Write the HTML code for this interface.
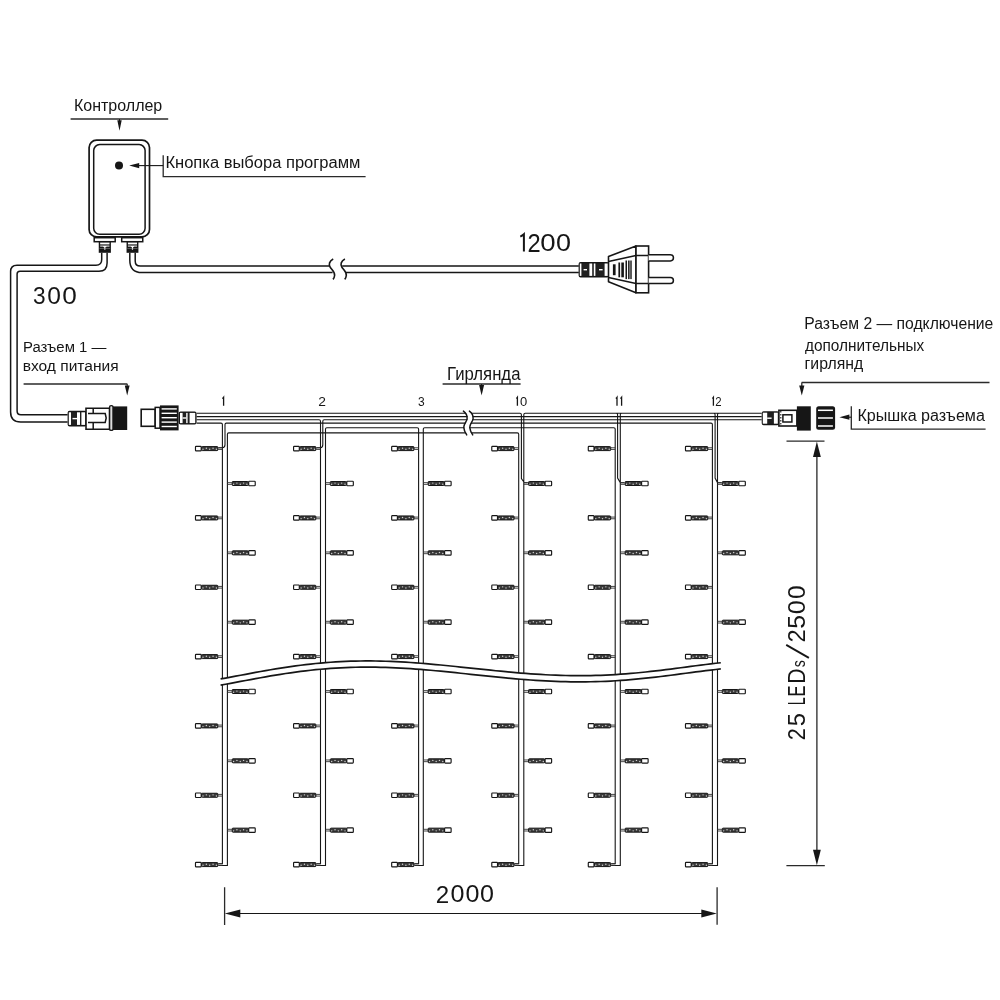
<!DOCTYPE html>
<html><head><meta charset="utf-8"><style>
html,body{margin:0;padding:0;background:#fff;width:1000px;height:1000px;overflow:hidden}
svg{display:block;will-change:transform}
text{font-family:"Liberation Sans",sans-serif;fill:#161616}
</style></head><body>
<svg width="1000" height="1000" viewBox="0 0 1000 1000">
<rect width="1000" height="1000" fill="#fff"/>

<rect x="89.1" y="140.1" width="60.4" height="96.8" rx="7.5" fill="none" stroke="#161616" stroke-width="1.7"/>
<rect x="93.7" y="144.6" width="51.4" height="89.6" rx="6" fill="none" stroke="#161616" stroke-width="1.5"/>
<circle cx="119" cy="165.6" r="4" fill="#161616"/>
<rect x="94.20" y="237.7" width="21.00" height="4" fill="#fff" stroke="#161616" stroke-width="1.5"/><rect x="98.75" y="241.7" width="12.15" height="11.1" fill="#161616"/><rect x="100.15" y="242.6" width="9.35" height="1.8" fill="#fff"/><rect x="100.15" y="245.4" width="9.35" height="1.4" fill="#bbb"/><rect x="103.23" y="246.1" width="3.2" height="1.0" fill="#fff"/><rect x="104.23" y="246.1" width="1.2" height="3.6" fill="#fff"/><rect x="99.55" y="248.1" width="10.55" height="0.5" fill="#999"/>
<rect x="121.70" y="237.7" width="21.05" height="4" fill="#fff" stroke="#161616" stroke-width="1.5"/><rect x="126.55" y="241.7" width="11.85" height="11.1" fill="#161616"/><rect x="127.95" y="242.6" width="9.05" height="1.8" fill="#fff"/><rect x="127.95" y="245.4" width="9.05" height="1.4" fill="#bbb"/><rect x="130.88" y="246.1" width="3.2" height="1.0" fill="#fff"/><rect x="131.88" y="246.1" width="1.2" height="3.6" fill="#fff"/><rect x="127.35" y="248.1" width="10.25" height="0.5" fill="#999"/>
<path d="M101.7,252.8 V259.5 Q101.7,265.2 96,265.2 H17 Q10.6,265.2 10.6,271.6 V412 Q10.6,422 20.6,422 H67.6" fill="none" stroke="#161616" stroke-width="1.5"/>
<path d="M107.1,252.8 V263 Q107.1,271.2 99,271.2 H20 Q17.1,271.2 17.1,274.1 V411 Q17.1,414.8 20.9,414.8 H67.6" fill="none" stroke="#161616" stroke-width="1.5"/>
<path d="M129.8,252.8 V260 Q129.8,272.6 142,272.6 H332.6" fill="none" stroke="#161616" stroke-width="1.5"/>
<path d="M135.2,252.8 V261 Q135.2,266.1 140.3,266.1 H329.6" fill="none" stroke="#161616" stroke-width="1.5"/>
<path d="M342.2,266.1 H578.8 M345.8,272.6 H578.8" fill="none" stroke="#161616" stroke-width="1.5"/>
<path d="M333.2,259 C329.3,261 328.4,264.6 330.2,267.2 C332.2,270.2 335,272 334.6,275.5 C334.4,277.3 333.8,278.5 333,279.4" fill="none" stroke="#161616" stroke-width="1.6"/>
<path d="M344.9,259 C341.0,261 340.09999999999997,264.6 341.9,267.2 C343.9,270.2 346.7,272 346.3,275.5 C346.09999999999997,277.3 345.5,278.5 344.7,279.4" fill="none" stroke="#161616" stroke-width="1.6"/>
<rect x="579.30" y="262.70" width="29.00" height="14.00" rx="1.3" fill="#202020" stroke="#161616" stroke-width="1.4"/><rect x="579.80" y="263.50" width="1.60" height="12.40" fill="#fff"/><rect x="589.40" y="263.50" width="2.80" height="12.40" fill="#fff"/><rect x="593.80" y="263.50" width="1.60" height="12.40" fill="#fff"/><rect x="604.60" y="263.50" width="3.40" height="12.40" fill="#fff"/><rect x="583.60" y="269.00" width="3.40" height="1.4" fill="#fff"/><rect x="599.00" y="269.00" width="3.60" height="1.4" fill="#fff"/>
<path d="M608.5,256.5 L636,246 V292.8 L608.5,281.8 Z" fill="#fff" stroke="#161616" stroke-width="1.6" stroke-linejoin="round"/>
<path d="M608.5,261.4 L636,255.4 M608.5,277.4 L636,283.4" fill="none" stroke="#161616" stroke-width="1.5"/>
<rect x="612.9" y="264.3" width="2.7" height="10.9" fill="#161616"/>
<rect x="618.4" y="262.5" width="1.7" height="14.8" fill="#161616"/><rect x="621.3" y="262.5" width="2.6" height="14.8" fill="#161616"/>
<rect x="625.5" y="260.5" width="1.5" height="18.6" fill="#161616"/><rect x="628.1" y="260.5" width="1.5" height="18.6" fill="#161616"/><rect x="630.3" y="260.5" width="1.4" height="18.6" fill="#161616"/>
<rect x="636" y="246" width="12.6" height="46.8" fill="#fff" stroke="#161616" stroke-width="1.6"/>
<path d="M636,255.4 H648.6 M636,283.4 H648.6" stroke="#161616" stroke-width="1.5"/>
<path d="M648.6,254.8 H670.4 A3,3 0 0 1 670.4,260.9 H648.6" fill="#fff" stroke="#161616" stroke-width="1.5"/>
<path d="M648.6,277.4 H670.4 A3,3 0 0 1 670.4,283.4 H648.6" fill="#fff" stroke="#161616" stroke-width="1.5"/>
<rect x="68.30" y="411.50" width="17.60" height="14.20" rx="1.3" fill="#202020" stroke="#161616" stroke-width="1.4"/><rect x="68.80" y="412.30" width="2.20" height="12.60" fill="#fff"/><rect x="77.00" y="412.30" width="3.00" height="12.60" fill="#fff"/><rect x="81.40" y="412.30" width="3.80" height="12.60" fill="#fff"/><rect x="72.50" y="417.90" width="4.50" height="1.4" fill="#fff"/>
<path d="M86,408.2 H109.6 V429.2 H86 Z" fill="#fff" stroke="#161616" stroke-width="1.6"/>
<path d="M93.2,408.2 V429.2" stroke="#161616" stroke-width="1.5"/>
<path d="M88,413.6 H105.2 L106.2,418 L105.2,422.4 H88" fill="#fff" stroke="#161616" stroke-width="1.5"/>
<rect x="109.6" y="405.6" width="3.4" height="24.8" rx="1.5" fill="#ddd" stroke="#161616" stroke-width="1.4"/>
<rect x="113" y="406.4" width="14.2" height="23.6" fill="#161616"/>
<rect x="141.2" y="409.3" width="14" height="17" fill="#fff" stroke="#161616" stroke-width="1.6"/>
<rect x="155.2" y="407.4" width="4.8" height="20.8" fill="#fff" stroke="#161616" stroke-width="1.5"/>
<rect x="160" y="405.4" width="18.6" height="25" fill="#161616"/>
<rect x="161.6" y="408.20" width="15.2" height="1.4" fill="#fff"/>
<rect x="161.6" y="412.60" width="15.2" height="1.4" fill="#fff"/>
<rect x="161.6" y="417.00" width="15.2" height="1.4" fill="#fff"/>
<rect x="161.6" y="421.40" width="15.2" height="1.4" fill="#fff"/>
<rect x="161.6" y="425.80" width="15.2" height="1.4" fill="#fff"/>
<rect x="179.30" y="412.10" width="16.60" height="11.80" rx="1.3" fill="#202020" stroke="#161616" stroke-width="1.4"/><rect x="180.00" y="412.90" width="2.60" height="10.20" fill="#fff"/><rect x="186.20" y="412.90" width="1.40" height="10.20" fill="#fff"/><rect x="189.60" y="412.90" width="5.60" height="10.20" fill="#fff"/><rect x="182.60" y="417.30" width="3.60" height="1.4" fill="#fff"/>
<rect x="762.40" y="411.90" width="16.10" height="12.60" rx="1.3" fill="#202020" stroke="#161616" stroke-width="1.4"/><rect x="762.80" y="412.70" width="4.40" height="11.00" fill="#fff"/><rect x="773.90" y="412.70" width="3.90" height="11.00" fill="#fff"/><rect x="767.20" y="417.50" width="4.40" height="1.4" fill="#fff"/>
<rect x="778.9" y="410.3" width="18" height="15.7" fill="#fff" stroke="#161616" stroke-width="1.6"/>
<path d="M780.8,411 V425.3" stroke="#161616" stroke-width="1.1" stroke-dasharray="1.6 1.4"/>
<rect x="782.9" y="414.8" width="9" height="7.2" fill="#fff" stroke="#161616" stroke-width="1.5"/>
<rect x="796.9" y="406.3" width="13.9" height="24.3" fill="#161616"/>
<rect x="816.2" y="406.3" width="18.9" height="23.4" rx="2.5" fill="#161616"/>
<rect x="818" y="409.55" width="14.9" height="1.5" fill="#fff"/>
<rect x="818" y="417.25" width="14.9" height="1.5" fill="#fff"/>
<rect x="818" y="425.25" width="14.9" height="1.5" fill="#fff"/>
<path d="M196.6,413.3H474.0M461.0,413.3H520.0Q521.4,413.3 521.4,414.7V478.6L524.4,482.7H527.5M616.4,413.3H525.1999999999999Q523.8,413.3 523.8,414.7V865.48H515.0M621.7,413.3H616.2Q617.6,413.3 617.6,414.7V478.0L620.3,482.7H624.0M713.9,413.3H621.6999999999999Q620.3,413.3 620.3,414.7V865.48H611.5M718.9,413.3H713.7Q715.1,413.3 715.1,414.7V478.0L717.5,482.7H721.2M761.7,413.3H718.9Q717.5,413.3 717.5,414.7V865.48H708.7M196.6,416.6H474.0M461.0,416.6H761.7M196.6,419.8H319.1Q320.5,419.8 320.5,421.2V863.7800000000001H316.8M474.0,419.8H324.2Q322.8,419.8 322.8,421.2V444.6Q322.8,447.8 320.5,447.8H316.8M461.0,419.8H761.7M196.6,423.1H221.0Q222.4,423.1 222.4,424.5V863.7800000000001H218.7M474.0,423.1H226.4Q225.0,423.1 225.0,424.5V444.6Q225.0,447.8 222.4,447.8H218.7M461.0,423.1H711.0Q712.4,423.1 712.4,424.5V863.7800000000001H708.7M417.2,427.7H326.9Q325.5,427.7 325.5,429.09999999999997V865.48H316.8M326.9,427.7H417.20000000000005Q418.6,427.7 418.6,429.09999999999997V863.7800000000001H414.9M474.0,427.7H424.7Q423.3,427.7 423.3,429.09999999999997V865.48H414.9M461.0,427.7H613.8000000000001Q615.2,427.7 615.2,429.09999999999997V863.7800000000001H611.5M474.0,432.9H228.8Q227.4,432.9 227.4,434.29999999999995V865.48H218.7M461.0,432.9H517.3000000000001Q518.7,432.9 518.7,434.29999999999995V863.7800000000001H515.0" fill="none" stroke="#161616" stroke-width="1.1"/>
<path d="M464.0,411.1 C466.90000000000003,413.3 468.0,415.8 467.70000000000005,418.7 C467.40000000000003,421.8 464.20000000000005,424.2 464.35,427.4 C464.5,430.4 466.0,432.9 467.3,434.9L472.2,434.9 C470.9,432.9 469.4,430.4 469.25,427.4 C469.1,424.2 472.3,421.8 472.6,418.7 C472.9,415.8 471.8,413.3 468.9,411.1Z" fill="#fff"/>
<path d="M463.4,411.1 C466.3,413.3 467.4,415.8 467.1,418.7 C466.8,421.8 463.6,424.2 463.75,427.4 C463.9,430.4 465.4,432.9 466.7,434.9" fill="none" stroke="#161616" stroke-width="1.45" stroke-linecap="round"/>
<path d="M469.4,411.1 C472.3,413.3 473.4,415.8 473.1,418.7 C472.8,421.8 469.6,424.2 469.75,427.4 C469.9,430.4 471.4,432.9 472.7,434.9" fill="none" stroke="#161616" stroke-width="1.45" stroke-linecap="round"/>
<path d="M218.20,447.75H222.40M218.20,449.45H222.40" stroke="#333" stroke-width="0.9"/><rect x="201.50" y="446.60" width="16.40" height="4.0" rx="0.9" fill="#3a3a3a" stroke="#161616" stroke-width="1.0"/><circle cx="203.00" cy="449.30" r="0.7" fill="#d0d0d0"/><circle cx="206.35" cy="448.20" r="0.7" fill="#d0d0d0"/><circle cx="209.70" cy="449.30" r="0.7" fill="#d0d0d0"/><circle cx="213.05" cy="448.20" r="0.7" fill="#d0d0d0"/><circle cx="216.40" cy="449.30" r="0.7" fill="#d0d0d0"/><rect x="195.48" y="446.35" width="5.72" height="4.5" rx="0.7" fill="#fff" stroke="#161616" stroke-width="1.15"/>
<path d="M218.20,517.08H222.40M218.20,518.78H222.40" stroke="#333" stroke-width="0.9"/><rect x="201.50" y="515.93" width="16.40" height="4.0" rx="0.9" fill="#3a3a3a" stroke="#161616" stroke-width="1.0"/><circle cx="203.00" cy="518.63" r="0.7" fill="#d0d0d0"/><circle cx="206.35" cy="517.53" r="0.7" fill="#d0d0d0"/><circle cx="209.70" cy="518.63" r="0.7" fill="#d0d0d0"/><circle cx="213.05" cy="517.53" r="0.7" fill="#d0d0d0"/><circle cx="216.40" cy="518.63" r="0.7" fill="#d0d0d0"/><rect x="195.48" y="515.68" width="5.72" height="4.5" rx="0.7" fill="#fff" stroke="#161616" stroke-width="1.15"/>
<path d="M218.20,586.41H222.40M218.20,588.11H222.40" stroke="#333" stroke-width="0.9"/><rect x="201.50" y="585.26" width="16.40" height="4.0" rx="0.9" fill="#3a3a3a" stroke="#161616" stroke-width="1.0"/><circle cx="203.00" cy="587.96" r="0.7" fill="#d0d0d0"/><circle cx="206.35" cy="586.86" r="0.7" fill="#d0d0d0"/><circle cx="209.70" cy="587.96" r="0.7" fill="#d0d0d0"/><circle cx="213.05" cy="586.86" r="0.7" fill="#d0d0d0"/><circle cx="216.40" cy="587.96" r="0.7" fill="#d0d0d0"/><rect x="195.48" y="585.01" width="5.72" height="4.5" rx="0.7" fill="#fff" stroke="#161616" stroke-width="1.15"/>
<path d="M218.20,655.74H222.40M218.20,657.44H222.40" stroke="#333" stroke-width="0.9"/><rect x="201.50" y="654.59" width="16.40" height="4.0" rx="0.9" fill="#3a3a3a" stroke="#161616" stroke-width="1.0"/><circle cx="203.00" cy="657.29" r="0.7" fill="#d0d0d0"/><circle cx="206.35" cy="656.19" r="0.7" fill="#d0d0d0"/><circle cx="209.70" cy="657.29" r="0.7" fill="#d0d0d0"/><circle cx="213.05" cy="656.19" r="0.7" fill="#d0d0d0"/><circle cx="216.40" cy="657.29" r="0.7" fill="#d0d0d0"/><rect x="195.48" y="654.34" width="5.72" height="4.5" rx="0.7" fill="#fff" stroke="#161616" stroke-width="1.15"/>
<path d="M218.20,725.07H222.40M218.20,726.77H222.40" stroke="#333" stroke-width="0.9"/><rect x="201.50" y="723.92" width="16.40" height="4.0" rx="0.9" fill="#3a3a3a" stroke="#161616" stroke-width="1.0"/><circle cx="203.00" cy="726.62" r="0.7" fill="#d0d0d0"/><circle cx="206.35" cy="725.52" r="0.7" fill="#d0d0d0"/><circle cx="209.70" cy="726.62" r="0.7" fill="#d0d0d0"/><circle cx="213.05" cy="725.52" r="0.7" fill="#d0d0d0"/><circle cx="216.40" cy="726.62" r="0.7" fill="#d0d0d0"/><rect x="195.48" y="723.67" width="5.72" height="4.5" rx="0.7" fill="#fff" stroke="#161616" stroke-width="1.15"/>
<path d="M218.20,794.40H222.40M218.20,796.10H222.40" stroke="#333" stroke-width="0.9"/><rect x="201.50" y="793.25" width="16.40" height="4.0" rx="0.9" fill="#3a3a3a" stroke="#161616" stroke-width="1.0"/><circle cx="203.00" cy="795.95" r="0.7" fill="#d0d0d0"/><circle cx="206.35" cy="794.85" r="0.7" fill="#d0d0d0"/><circle cx="209.70" cy="795.95" r="0.7" fill="#d0d0d0"/><circle cx="213.05" cy="794.85" r="0.7" fill="#d0d0d0"/><circle cx="216.40" cy="795.95" r="0.7" fill="#d0d0d0"/><rect x="195.48" y="793.00" width="5.72" height="4.5" rx="0.7" fill="#fff" stroke="#161616" stroke-width="1.15"/>
<path d="M218.20,863.73H222.40M218.20,865.43H222.40" stroke="#333" stroke-width="0.9"/><rect x="201.50" y="862.58" width="16.40" height="4.0" rx="0.9" fill="#3a3a3a" stroke="#161616" stroke-width="1.0"/><circle cx="203.00" cy="865.28" r="0.7" fill="#d0d0d0"/><circle cx="206.35" cy="864.18" r="0.7" fill="#d0d0d0"/><circle cx="209.70" cy="865.28" r="0.7" fill="#d0d0d0"/><circle cx="213.05" cy="864.18" r="0.7" fill="#d0d0d0"/><circle cx="216.40" cy="865.28" r="0.7" fill="#d0d0d0"/><rect x="195.48" y="862.33" width="5.72" height="4.5" rx="0.7" fill="#fff" stroke="#161616" stroke-width="1.15"/>
<path d="M227.40,482.65H231.80M227.40,484.35H231.80" stroke="#333" stroke-width="0.9"/><rect x="232.10" y="481.50" width="16.30" height="4.0" rx="0.9" fill="#3a3a3a" stroke="#161616" stroke-width="1.0"/><circle cx="233.60" cy="484.20" r="0.7" fill="#d0d0d0"/><circle cx="236.93" cy="483.10" r="0.7" fill="#d0d0d0"/><circle cx="240.25" cy="484.20" r="0.7" fill="#d0d0d0"/><circle cx="243.57" cy="483.10" r="0.7" fill="#d0d0d0"/><circle cx="246.90" cy="484.20" r="0.7" fill="#d0d0d0"/><rect x="248.70" y="481.25" width="6.52" height="4.5" rx="0.7" fill="#fff" stroke="#161616" stroke-width="1.15"/>
<path d="M227.40,551.98H231.80M227.40,553.68H231.80" stroke="#333" stroke-width="0.9"/><rect x="232.10" y="550.83" width="16.30" height="4.0" rx="0.9" fill="#3a3a3a" stroke="#161616" stroke-width="1.0"/><circle cx="233.60" cy="553.53" r="0.7" fill="#d0d0d0"/><circle cx="236.93" cy="552.43" r="0.7" fill="#d0d0d0"/><circle cx="240.25" cy="553.53" r="0.7" fill="#d0d0d0"/><circle cx="243.57" cy="552.43" r="0.7" fill="#d0d0d0"/><circle cx="246.90" cy="553.53" r="0.7" fill="#d0d0d0"/><rect x="248.70" y="550.58" width="6.52" height="4.5" rx="0.7" fill="#fff" stroke="#161616" stroke-width="1.15"/>
<path d="M227.40,621.31H231.80M227.40,623.01H231.80" stroke="#333" stroke-width="0.9"/><rect x="232.10" y="620.16" width="16.30" height="4.0" rx="0.9" fill="#3a3a3a" stroke="#161616" stroke-width="1.0"/><circle cx="233.60" cy="622.86" r="0.7" fill="#d0d0d0"/><circle cx="236.93" cy="621.76" r="0.7" fill="#d0d0d0"/><circle cx="240.25" cy="622.86" r="0.7" fill="#d0d0d0"/><circle cx="243.57" cy="621.76" r="0.7" fill="#d0d0d0"/><circle cx="246.90" cy="622.86" r="0.7" fill="#d0d0d0"/><rect x="248.70" y="619.91" width="6.52" height="4.5" rx="0.7" fill="#fff" stroke="#161616" stroke-width="1.15"/>
<path d="M227.40,690.64H231.80M227.40,692.34H231.80" stroke="#333" stroke-width="0.9"/><rect x="232.10" y="689.49" width="16.30" height="4.0" rx="0.9" fill="#3a3a3a" stroke="#161616" stroke-width="1.0"/><circle cx="233.60" cy="692.19" r="0.7" fill="#d0d0d0"/><circle cx="236.93" cy="691.09" r="0.7" fill="#d0d0d0"/><circle cx="240.25" cy="692.19" r="0.7" fill="#d0d0d0"/><circle cx="243.57" cy="691.09" r="0.7" fill="#d0d0d0"/><circle cx="246.90" cy="692.19" r="0.7" fill="#d0d0d0"/><rect x="248.70" y="689.24" width="6.52" height="4.5" rx="0.7" fill="#fff" stroke="#161616" stroke-width="1.15"/>
<path d="M227.40,759.97H231.80M227.40,761.67H231.80" stroke="#333" stroke-width="0.9"/><rect x="232.10" y="758.82" width="16.30" height="4.0" rx="0.9" fill="#3a3a3a" stroke="#161616" stroke-width="1.0"/><circle cx="233.60" cy="761.52" r="0.7" fill="#d0d0d0"/><circle cx="236.93" cy="760.42" r="0.7" fill="#d0d0d0"/><circle cx="240.25" cy="761.52" r="0.7" fill="#d0d0d0"/><circle cx="243.57" cy="760.42" r="0.7" fill="#d0d0d0"/><circle cx="246.90" cy="761.52" r="0.7" fill="#d0d0d0"/><rect x="248.70" y="758.57" width="6.52" height="4.5" rx="0.7" fill="#fff" stroke="#161616" stroke-width="1.15"/>
<path d="M227.40,829.30H231.80M227.40,831.00H231.80" stroke="#333" stroke-width="0.9"/><rect x="232.10" y="828.15" width="16.30" height="4.0" rx="0.9" fill="#3a3a3a" stroke="#161616" stroke-width="1.0"/><circle cx="233.60" cy="830.85" r="0.7" fill="#d0d0d0"/><circle cx="236.93" cy="829.75" r="0.7" fill="#d0d0d0"/><circle cx="240.25" cy="830.85" r="0.7" fill="#d0d0d0"/><circle cx="243.57" cy="829.75" r="0.7" fill="#d0d0d0"/><circle cx="246.90" cy="830.85" r="0.7" fill="#d0d0d0"/><rect x="248.70" y="827.90" width="6.52" height="4.5" rx="0.7" fill="#fff" stroke="#161616" stroke-width="1.15"/>
<path d="M316.30,447.75H320.50M316.30,449.45H320.50" stroke="#333" stroke-width="0.9"/><rect x="299.60" y="446.60" width="16.40" height="4.0" rx="0.9" fill="#3a3a3a" stroke="#161616" stroke-width="1.0"/><circle cx="301.10" cy="449.30" r="0.7" fill="#d0d0d0"/><circle cx="304.45" cy="448.20" r="0.7" fill="#d0d0d0"/><circle cx="307.80" cy="449.30" r="0.7" fill="#d0d0d0"/><circle cx="311.15" cy="448.20" r="0.7" fill="#d0d0d0"/><circle cx="314.50" cy="449.30" r="0.7" fill="#d0d0d0"/><rect x="293.58" y="446.35" width="5.72" height="4.5" rx="0.7" fill="#fff" stroke="#161616" stroke-width="1.15"/>
<path d="M316.30,517.08H320.50M316.30,518.78H320.50" stroke="#333" stroke-width="0.9"/><rect x="299.60" y="515.93" width="16.40" height="4.0" rx="0.9" fill="#3a3a3a" stroke="#161616" stroke-width="1.0"/><circle cx="301.10" cy="518.63" r="0.7" fill="#d0d0d0"/><circle cx="304.45" cy="517.53" r="0.7" fill="#d0d0d0"/><circle cx="307.80" cy="518.63" r="0.7" fill="#d0d0d0"/><circle cx="311.15" cy="517.53" r="0.7" fill="#d0d0d0"/><circle cx="314.50" cy="518.63" r="0.7" fill="#d0d0d0"/><rect x="293.58" y="515.68" width="5.72" height="4.5" rx="0.7" fill="#fff" stroke="#161616" stroke-width="1.15"/>
<path d="M316.30,586.41H320.50M316.30,588.11H320.50" stroke="#333" stroke-width="0.9"/><rect x="299.60" y="585.26" width="16.40" height="4.0" rx="0.9" fill="#3a3a3a" stroke="#161616" stroke-width="1.0"/><circle cx="301.10" cy="587.96" r="0.7" fill="#d0d0d0"/><circle cx="304.45" cy="586.86" r="0.7" fill="#d0d0d0"/><circle cx="307.80" cy="587.96" r="0.7" fill="#d0d0d0"/><circle cx="311.15" cy="586.86" r="0.7" fill="#d0d0d0"/><circle cx="314.50" cy="587.96" r="0.7" fill="#d0d0d0"/><rect x="293.58" y="585.01" width="5.72" height="4.5" rx="0.7" fill="#fff" stroke="#161616" stroke-width="1.15"/>
<path d="M316.30,655.74H320.50M316.30,657.44H320.50" stroke="#333" stroke-width="0.9"/><rect x="299.60" y="654.59" width="16.40" height="4.0" rx="0.9" fill="#3a3a3a" stroke="#161616" stroke-width="1.0"/><circle cx="301.10" cy="657.29" r="0.7" fill="#d0d0d0"/><circle cx="304.45" cy="656.19" r="0.7" fill="#d0d0d0"/><circle cx="307.80" cy="657.29" r="0.7" fill="#d0d0d0"/><circle cx="311.15" cy="656.19" r="0.7" fill="#d0d0d0"/><circle cx="314.50" cy="657.29" r="0.7" fill="#d0d0d0"/><rect x="293.58" y="654.34" width="5.72" height="4.5" rx="0.7" fill="#fff" stroke="#161616" stroke-width="1.15"/>
<path d="M316.30,725.07H320.50M316.30,726.77H320.50" stroke="#333" stroke-width="0.9"/><rect x="299.60" y="723.92" width="16.40" height="4.0" rx="0.9" fill="#3a3a3a" stroke="#161616" stroke-width="1.0"/><circle cx="301.10" cy="726.62" r="0.7" fill="#d0d0d0"/><circle cx="304.45" cy="725.52" r="0.7" fill="#d0d0d0"/><circle cx="307.80" cy="726.62" r="0.7" fill="#d0d0d0"/><circle cx="311.15" cy="725.52" r="0.7" fill="#d0d0d0"/><circle cx="314.50" cy="726.62" r="0.7" fill="#d0d0d0"/><rect x="293.58" y="723.67" width="5.72" height="4.5" rx="0.7" fill="#fff" stroke="#161616" stroke-width="1.15"/>
<path d="M316.30,794.40H320.50M316.30,796.10H320.50" stroke="#333" stroke-width="0.9"/><rect x="299.60" y="793.25" width="16.40" height="4.0" rx="0.9" fill="#3a3a3a" stroke="#161616" stroke-width="1.0"/><circle cx="301.10" cy="795.95" r="0.7" fill="#d0d0d0"/><circle cx="304.45" cy="794.85" r="0.7" fill="#d0d0d0"/><circle cx="307.80" cy="795.95" r="0.7" fill="#d0d0d0"/><circle cx="311.15" cy="794.85" r="0.7" fill="#d0d0d0"/><circle cx="314.50" cy="795.95" r="0.7" fill="#d0d0d0"/><rect x="293.58" y="793.00" width="5.72" height="4.5" rx="0.7" fill="#fff" stroke="#161616" stroke-width="1.15"/>
<path d="M316.30,863.73H320.50M316.30,865.43H320.50" stroke="#333" stroke-width="0.9"/><rect x="299.60" y="862.58" width="16.40" height="4.0" rx="0.9" fill="#3a3a3a" stroke="#161616" stroke-width="1.0"/><circle cx="301.10" cy="865.28" r="0.7" fill="#d0d0d0"/><circle cx="304.45" cy="864.18" r="0.7" fill="#d0d0d0"/><circle cx="307.80" cy="865.28" r="0.7" fill="#d0d0d0"/><circle cx="311.15" cy="864.18" r="0.7" fill="#d0d0d0"/><circle cx="314.50" cy="865.28" r="0.7" fill="#d0d0d0"/><rect x="293.58" y="862.33" width="5.72" height="4.5" rx="0.7" fill="#fff" stroke="#161616" stroke-width="1.15"/>
<path d="M325.50,482.65H329.90M325.50,484.35H329.90" stroke="#333" stroke-width="0.9"/><rect x="330.20" y="481.50" width="16.30" height="4.0" rx="0.9" fill="#3a3a3a" stroke="#161616" stroke-width="1.0"/><circle cx="331.70" cy="484.20" r="0.7" fill="#d0d0d0"/><circle cx="335.02" cy="483.10" r="0.7" fill="#d0d0d0"/><circle cx="338.35" cy="484.20" r="0.7" fill="#d0d0d0"/><circle cx="341.68" cy="483.10" r="0.7" fill="#d0d0d0"/><circle cx="345.00" cy="484.20" r="0.7" fill="#d0d0d0"/><rect x="346.80" y="481.25" width="6.52" height="4.5" rx="0.7" fill="#fff" stroke="#161616" stroke-width="1.15"/>
<path d="M325.50,551.98H329.90M325.50,553.68H329.90" stroke="#333" stroke-width="0.9"/><rect x="330.20" y="550.83" width="16.30" height="4.0" rx="0.9" fill="#3a3a3a" stroke="#161616" stroke-width="1.0"/><circle cx="331.70" cy="553.53" r="0.7" fill="#d0d0d0"/><circle cx="335.02" cy="552.43" r="0.7" fill="#d0d0d0"/><circle cx="338.35" cy="553.53" r="0.7" fill="#d0d0d0"/><circle cx="341.68" cy="552.43" r="0.7" fill="#d0d0d0"/><circle cx="345.00" cy="553.53" r="0.7" fill="#d0d0d0"/><rect x="346.80" y="550.58" width="6.52" height="4.5" rx="0.7" fill="#fff" stroke="#161616" stroke-width="1.15"/>
<path d="M325.50,621.31H329.90M325.50,623.01H329.90" stroke="#333" stroke-width="0.9"/><rect x="330.20" y="620.16" width="16.30" height="4.0" rx="0.9" fill="#3a3a3a" stroke="#161616" stroke-width="1.0"/><circle cx="331.70" cy="622.86" r="0.7" fill="#d0d0d0"/><circle cx="335.02" cy="621.76" r="0.7" fill="#d0d0d0"/><circle cx="338.35" cy="622.86" r="0.7" fill="#d0d0d0"/><circle cx="341.68" cy="621.76" r="0.7" fill="#d0d0d0"/><circle cx="345.00" cy="622.86" r="0.7" fill="#d0d0d0"/><rect x="346.80" y="619.91" width="6.52" height="4.5" rx="0.7" fill="#fff" stroke="#161616" stroke-width="1.15"/>
<path d="M325.50,690.64H329.90M325.50,692.34H329.90" stroke="#333" stroke-width="0.9"/><rect x="330.20" y="689.49" width="16.30" height="4.0" rx="0.9" fill="#3a3a3a" stroke="#161616" stroke-width="1.0"/><circle cx="331.70" cy="692.19" r="0.7" fill="#d0d0d0"/><circle cx="335.02" cy="691.09" r="0.7" fill="#d0d0d0"/><circle cx="338.35" cy="692.19" r="0.7" fill="#d0d0d0"/><circle cx="341.68" cy="691.09" r="0.7" fill="#d0d0d0"/><circle cx="345.00" cy="692.19" r="0.7" fill="#d0d0d0"/><rect x="346.80" y="689.24" width="6.52" height="4.5" rx="0.7" fill="#fff" stroke="#161616" stroke-width="1.15"/>
<path d="M325.50,759.97H329.90M325.50,761.67H329.90" stroke="#333" stroke-width="0.9"/><rect x="330.20" y="758.82" width="16.30" height="4.0" rx="0.9" fill="#3a3a3a" stroke="#161616" stroke-width="1.0"/><circle cx="331.70" cy="761.52" r="0.7" fill="#d0d0d0"/><circle cx="335.02" cy="760.42" r="0.7" fill="#d0d0d0"/><circle cx="338.35" cy="761.52" r="0.7" fill="#d0d0d0"/><circle cx="341.68" cy="760.42" r="0.7" fill="#d0d0d0"/><circle cx="345.00" cy="761.52" r="0.7" fill="#d0d0d0"/><rect x="346.80" y="758.57" width="6.52" height="4.5" rx="0.7" fill="#fff" stroke="#161616" stroke-width="1.15"/>
<path d="M325.50,829.30H329.90M325.50,831.00H329.90" stroke="#333" stroke-width="0.9"/><rect x="330.20" y="828.15" width="16.30" height="4.0" rx="0.9" fill="#3a3a3a" stroke="#161616" stroke-width="1.0"/><circle cx="331.70" cy="830.85" r="0.7" fill="#d0d0d0"/><circle cx="335.02" cy="829.75" r="0.7" fill="#d0d0d0"/><circle cx="338.35" cy="830.85" r="0.7" fill="#d0d0d0"/><circle cx="341.68" cy="829.75" r="0.7" fill="#d0d0d0"/><circle cx="345.00" cy="830.85" r="0.7" fill="#d0d0d0"/><rect x="346.80" y="827.90" width="6.52" height="4.5" rx="0.7" fill="#fff" stroke="#161616" stroke-width="1.15"/>
<path d="M414.40,447.75H418.60M414.40,449.45H418.60" stroke="#333" stroke-width="0.9"/><rect x="397.70" y="446.60" width="16.40" height="4.0" rx="0.9" fill="#3a3a3a" stroke="#161616" stroke-width="1.0"/><circle cx="399.20" cy="449.30" r="0.7" fill="#d0d0d0"/><circle cx="402.55" cy="448.20" r="0.7" fill="#d0d0d0"/><circle cx="405.90" cy="449.30" r="0.7" fill="#d0d0d0"/><circle cx="409.25" cy="448.20" r="0.7" fill="#d0d0d0"/><circle cx="412.60" cy="449.30" r="0.7" fill="#d0d0d0"/><rect x="391.68" y="446.35" width="5.72" height="4.5" rx="0.7" fill="#fff" stroke="#161616" stroke-width="1.15"/>
<path d="M414.40,517.08H418.60M414.40,518.78H418.60" stroke="#333" stroke-width="0.9"/><rect x="397.70" y="515.93" width="16.40" height="4.0" rx="0.9" fill="#3a3a3a" stroke="#161616" stroke-width="1.0"/><circle cx="399.20" cy="518.63" r="0.7" fill="#d0d0d0"/><circle cx="402.55" cy="517.53" r="0.7" fill="#d0d0d0"/><circle cx="405.90" cy="518.63" r="0.7" fill="#d0d0d0"/><circle cx="409.25" cy="517.53" r="0.7" fill="#d0d0d0"/><circle cx="412.60" cy="518.63" r="0.7" fill="#d0d0d0"/><rect x="391.68" y="515.68" width="5.72" height="4.5" rx="0.7" fill="#fff" stroke="#161616" stroke-width="1.15"/>
<path d="M414.40,586.41H418.60M414.40,588.11H418.60" stroke="#333" stroke-width="0.9"/><rect x="397.70" y="585.26" width="16.40" height="4.0" rx="0.9" fill="#3a3a3a" stroke="#161616" stroke-width="1.0"/><circle cx="399.20" cy="587.96" r="0.7" fill="#d0d0d0"/><circle cx="402.55" cy="586.86" r="0.7" fill="#d0d0d0"/><circle cx="405.90" cy="587.96" r="0.7" fill="#d0d0d0"/><circle cx="409.25" cy="586.86" r="0.7" fill="#d0d0d0"/><circle cx="412.60" cy="587.96" r="0.7" fill="#d0d0d0"/><rect x="391.68" y="585.01" width="5.72" height="4.5" rx="0.7" fill="#fff" stroke="#161616" stroke-width="1.15"/>
<path d="M414.40,655.74H418.60M414.40,657.44H418.60" stroke="#333" stroke-width="0.9"/><rect x="397.70" y="654.59" width="16.40" height="4.0" rx="0.9" fill="#3a3a3a" stroke="#161616" stroke-width="1.0"/><circle cx="399.20" cy="657.29" r="0.7" fill="#d0d0d0"/><circle cx="402.55" cy="656.19" r="0.7" fill="#d0d0d0"/><circle cx="405.90" cy="657.29" r="0.7" fill="#d0d0d0"/><circle cx="409.25" cy="656.19" r="0.7" fill="#d0d0d0"/><circle cx="412.60" cy="657.29" r="0.7" fill="#d0d0d0"/><rect x="391.68" y="654.34" width="5.72" height="4.5" rx="0.7" fill="#fff" stroke="#161616" stroke-width="1.15"/>
<path d="M414.40,725.07H418.60M414.40,726.77H418.60" stroke="#333" stroke-width="0.9"/><rect x="397.70" y="723.92" width="16.40" height="4.0" rx="0.9" fill="#3a3a3a" stroke="#161616" stroke-width="1.0"/><circle cx="399.20" cy="726.62" r="0.7" fill="#d0d0d0"/><circle cx="402.55" cy="725.52" r="0.7" fill="#d0d0d0"/><circle cx="405.90" cy="726.62" r="0.7" fill="#d0d0d0"/><circle cx="409.25" cy="725.52" r="0.7" fill="#d0d0d0"/><circle cx="412.60" cy="726.62" r="0.7" fill="#d0d0d0"/><rect x="391.68" y="723.67" width="5.72" height="4.5" rx="0.7" fill="#fff" stroke="#161616" stroke-width="1.15"/>
<path d="M414.40,794.40H418.60M414.40,796.10H418.60" stroke="#333" stroke-width="0.9"/><rect x="397.70" y="793.25" width="16.40" height="4.0" rx="0.9" fill="#3a3a3a" stroke="#161616" stroke-width="1.0"/><circle cx="399.20" cy="795.95" r="0.7" fill="#d0d0d0"/><circle cx="402.55" cy="794.85" r="0.7" fill="#d0d0d0"/><circle cx="405.90" cy="795.95" r="0.7" fill="#d0d0d0"/><circle cx="409.25" cy="794.85" r="0.7" fill="#d0d0d0"/><circle cx="412.60" cy="795.95" r="0.7" fill="#d0d0d0"/><rect x="391.68" y="793.00" width="5.72" height="4.5" rx="0.7" fill="#fff" stroke="#161616" stroke-width="1.15"/>
<path d="M414.40,863.73H418.60M414.40,865.43H418.60" stroke="#333" stroke-width="0.9"/><rect x="397.70" y="862.58" width="16.40" height="4.0" rx="0.9" fill="#3a3a3a" stroke="#161616" stroke-width="1.0"/><circle cx="399.20" cy="865.28" r="0.7" fill="#d0d0d0"/><circle cx="402.55" cy="864.18" r="0.7" fill="#d0d0d0"/><circle cx="405.90" cy="865.28" r="0.7" fill="#d0d0d0"/><circle cx="409.25" cy="864.18" r="0.7" fill="#d0d0d0"/><circle cx="412.60" cy="865.28" r="0.7" fill="#d0d0d0"/><rect x="391.68" y="862.33" width="5.72" height="4.5" rx="0.7" fill="#fff" stroke="#161616" stroke-width="1.15"/>
<path d="M423.30,482.65H427.70M423.30,484.35H427.70" stroke="#333" stroke-width="0.9"/><rect x="428.00" y="481.50" width="16.30" height="4.0" rx="0.9" fill="#3a3a3a" stroke="#161616" stroke-width="1.0"/><circle cx="429.50" cy="484.20" r="0.7" fill="#d0d0d0"/><circle cx="432.82" cy="483.10" r="0.7" fill="#d0d0d0"/><circle cx="436.15" cy="484.20" r="0.7" fill="#d0d0d0"/><circle cx="439.48" cy="483.10" r="0.7" fill="#d0d0d0"/><circle cx="442.80" cy="484.20" r="0.7" fill="#d0d0d0"/><rect x="444.60" y="481.25" width="6.52" height="4.5" rx="0.7" fill="#fff" stroke="#161616" stroke-width="1.15"/>
<path d="M423.30,551.98H427.70M423.30,553.68H427.70" stroke="#333" stroke-width="0.9"/><rect x="428.00" y="550.83" width="16.30" height="4.0" rx="0.9" fill="#3a3a3a" stroke="#161616" stroke-width="1.0"/><circle cx="429.50" cy="553.53" r="0.7" fill="#d0d0d0"/><circle cx="432.82" cy="552.43" r="0.7" fill="#d0d0d0"/><circle cx="436.15" cy="553.53" r="0.7" fill="#d0d0d0"/><circle cx="439.48" cy="552.43" r="0.7" fill="#d0d0d0"/><circle cx="442.80" cy="553.53" r="0.7" fill="#d0d0d0"/><rect x="444.60" y="550.58" width="6.52" height="4.5" rx="0.7" fill="#fff" stroke="#161616" stroke-width="1.15"/>
<path d="M423.30,621.31H427.70M423.30,623.01H427.70" stroke="#333" stroke-width="0.9"/><rect x="428.00" y="620.16" width="16.30" height="4.0" rx="0.9" fill="#3a3a3a" stroke="#161616" stroke-width="1.0"/><circle cx="429.50" cy="622.86" r="0.7" fill="#d0d0d0"/><circle cx="432.82" cy="621.76" r="0.7" fill="#d0d0d0"/><circle cx="436.15" cy="622.86" r="0.7" fill="#d0d0d0"/><circle cx="439.48" cy="621.76" r="0.7" fill="#d0d0d0"/><circle cx="442.80" cy="622.86" r="0.7" fill="#d0d0d0"/><rect x="444.60" y="619.91" width="6.52" height="4.5" rx="0.7" fill="#fff" stroke="#161616" stroke-width="1.15"/>
<path d="M423.30,690.64H427.70M423.30,692.34H427.70" stroke="#333" stroke-width="0.9"/><rect x="428.00" y="689.49" width="16.30" height="4.0" rx="0.9" fill="#3a3a3a" stroke="#161616" stroke-width="1.0"/><circle cx="429.50" cy="692.19" r="0.7" fill="#d0d0d0"/><circle cx="432.82" cy="691.09" r="0.7" fill="#d0d0d0"/><circle cx="436.15" cy="692.19" r="0.7" fill="#d0d0d0"/><circle cx="439.48" cy="691.09" r="0.7" fill="#d0d0d0"/><circle cx="442.80" cy="692.19" r="0.7" fill="#d0d0d0"/><rect x="444.60" y="689.24" width="6.52" height="4.5" rx="0.7" fill="#fff" stroke="#161616" stroke-width="1.15"/>
<path d="M423.30,759.97H427.70M423.30,761.67H427.70" stroke="#333" stroke-width="0.9"/><rect x="428.00" y="758.82" width="16.30" height="4.0" rx="0.9" fill="#3a3a3a" stroke="#161616" stroke-width="1.0"/><circle cx="429.50" cy="761.52" r="0.7" fill="#d0d0d0"/><circle cx="432.82" cy="760.42" r="0.7" fill="#d0d0d0"/><circle cx="436.15" cy="761.52" r="0.7" fill="#d0d0d0"/><circle cx="439.48" cy="760.42" r="0.7" fill="#d0d0d0"/><circle cx="442.80" cy="761.52" r="0.7" fill="#d0d0d0"/><rect x="444.60" y="758.57" width="6.52" height="4.5" rx="0.7" fill="#fff" stroke="#161616" stroke-width="1.15"/>
<path d="M423.30,829.30H427.70M423.30,831.00H427.70" stroke="#333" stroke-width="0.9"/><rect x="428.00" y="828.15" width="16.30" height="4.0" rx="0.9" fill="#3a3a3a" stroke="#161616" stroke-width="1.0"/><circle cx="429.50" cy="830.85" r="0.7" fill="#d0d0d0"/><circle cx="432.82" cy="829.75" r="0.7" fill="#d0d0d0"/><circle cx="436.15" cy="830.85" r="0.7" fill="#d0d0d0"/><circle cx="439.48" cy="829.75" r="0.7" fill="#d0d0d0"/><circle cx="442.80" cy="830.85" r="0.7" fill="#d0d0d0"/><rect x="444.60" y="827.90" width="6.52" height="4.5" rx="0.7" fill="#fff" stroke="#161616" stroke-width="1.15"/>
<path d="M514.50,447.75H518.70M514.50,449.45H518.70" stroke="#333" stroke-width="0.9"/><rect x="497.80" y="446.60" width="16.40" height="4.0" rx="0.9" fill="#3a3a3a" stroke="#161616" stroke-width="1.0"/><circle cx="499.30" cy="449.30" r="0.7" fill="#d0d0d0"/><circle cx="502.65" cy="448.20" r="0.7" fill="#d0d0d0"/><circle cx="506.00" cy="449.30" r="0.7" fill="#d0d0d0"/><circle cx="509.35" cy="448.20" r="0.7" fill="#d0d0d0"/><circle cx="512.70" cy="449.30" r="0.7" fill="#d0d0d0"/><rect x="491.78" y="446.35" width="5.72" height="4.5" rx="0.7" fill="#fff" stroke="#161616" stroke-width="1.15"/>
<path d="M514.50,517.08H518.70M514.50,518.78H518.70" stroke="#333" stroke-width="0.9"/><rect x="497.80" y="515.93" width="16.40" height="4.0" rx="0.9" fill="#3a3a3a" stroke="#161616" stroke-width="1.0"/><circle cx="499.30" cy="518.63" r="0.7" fill="#d0d0d0"/><circle cx="502.65" cy="517.53" r="0.7" fill="#d0d0d0"/><circle cx="506.00" cy="518.63" r="0.7" fill="#d0d0d0"/><circle cx="509.35" cy="517.53" r="0.7" fill="#d0d0d0"/><circle cx="512.70" cy="518.63" r="0.7" fill="#d0d0d0"/><rect x="491.78" y="515.68" width="5.72" height="4.5" rx="0.7" fill="#fff" stroke="#161616" stroke-width="1.15"/>
<path d="M514.50,586.41H518.70M514.50,588.11H518.70" stroke="#333" stroke-width="0.9"/><rect x="497.80" y="585.26" width="16.40" height="4.0" rx="0.9" fill="#3a3a3a" stroke="#161616" stroke-width="1.0"/><circle cx="499.30" cy="587.96" r="0.7" fill="#d0d0d0"/><circle cx="502.65" cy="586.86" r="0.7" fill="#d0d0d0"/><circle cx="506.00" cy="587.96" r="0.7" fill="#d0d0d0"/><circle cx="509.35" cy="586.86" r="0.7" fill="#d0d0d0"/><circle cx="512.70" cy="587.96" r="0.7" fill="#d0d0d0"/><rect x="491.78" y="585.01" width="5.72" height="4.5" rx="0.7" fill="#fff" stroke="#161616" stroke-width="1.15"/>
<path d="M514.50,655.74H518.70M514.50,657.44H518.70" stroke="#333" stroke-width="0.9"/><rect x="497.80" y="654.59" width="16.40" height="4.0" rx="0.9" fill="#3a3a3a" stroke="#161616" stroke-width="1.0"/><circle cx="499.30" cy="657.29" r="0.7" fill="#d0d0d0"/><circle cx="502.65" cy="656.19" r="0.7" fill="#d0d0d0"/><circle cx="506.00" cy="657.29" r="0.7" fill="#d0d0d0"/><circle cx="509.35" cy="656.19" r="0.7" fill="#d0d0d0"/><circle cx="512.70" cy="657.29" r="0.7" fill="#d0d0d0"/><rect x="491.78" y="654.34" width="5.72" height="4.5" rx="0.7" fill="#fff" stroke="#161616" stroke-width="1.15"/>
<path d="M514.50,725.07H518.70M514.50,726.77H518.70" stroke="#333" stroke-width="0.9"/><rect x="497.80" y="723.92" width="16.40" height="4.0" rx="0.9" fill="#3a3a3a" stroke="#161616" stroke-width="1.0"/><circle cx="499.30" cy="726.62" r="0.7" fill="#d0d0d0"/><circle cx="502.65" cy="725.52" r="0.7" fill="#d0d0d0"/><circle cx="506.00" cy="726.62" r="0.7" fill="#d0d0d0"/><circle cx="509.35" cy="725.52" r="0.7" fill="#d0d0d0"/><circle cx="512.70" cy="726.62" r="0.7" fill="#d0d0d0"/><rect x="491.78" y="723.67" width="5.72" height="4.5" rx="0.7" fill="#fff" stroke="#161616" stroke-width="1.15"/>
<path d="M514.50,794.40H518.70M514.50,796.10H518.70" stroke="#333" stroke-width="0.9"/><rect x="497.80" y="793.25" width="16.40" height="4.0" rx="0.9" fill="#3a3a3a" stroke="#161616" stroke-width="1.0"/><circle cx="499.30" cy="795.95" r="0.7" fill="#d0d0d0"/><circle cx="502.65" cy="794.85" r="0.7" fill="#d0d0d0"/><circle cx="506.00" cy="795.95" r="0.7" fill="#d0d0d0"/><circle cx="509.35" cy="794.85" r="0.7" fill="#d0d0d0"/><circle cx="512.70" cy="795.95" r="0.7" fill="#d0d0d0"/><rect x="491.78" y="793.00" width="5.72" height="4.5" rx="0.7" fill="#fff" stroke="#161616" stroke-width="1.15"/>
<path d="M514.50,863.73H518.70M514.50,865.43H518.70" stroke="#333" stroke-width="0.9"/><rect x="497.80" y="862.58" width="16.40" height="4.0" rx="0.9" fill="#3a3a3a" stroke="#161616" stroke-width="1.0"/><circle cx="499.30" cy="865.28" r="0.7" fill="#d0d0d0"/><circle cx="502.65" cy="864.18" r="0.7" fill="#d0d0d0"/><circle cx="506.00" cy="865.28" r="0.7" fill="#d0d0d0"/><circle cx="509.35" cy="864.18" r="0.7" fill="#d0d0d0"/><circle cx="512.70" cy="865.28" r="0.7" fill="#d0d0d0"/><rect x="491.78" y="862.33" width="5.72" height="4.5" rx="0.7" fill="#fff" stroke="#161616" stroke-width="1.15"/>
<path d="M523.80,482.65H528.20M523.80,484.35H528.20" stroke="#333" stroke-width="0.9"/><rect x="528.50" y="481.50" width="16.30" height="4.0" rx="0.9" fill="#3a3a3a" stroke="#161616" stroke-width="1.0"/><circle cx="530.00" cy="484.20" r="0.7" fill="#d0d0d0"/><circle cx="533.33" cy="483.10" r="0.7" fill="#d0d0d0"/><circle cx="536.65" cy="484.20" r="0.7" fill="#d0d0d0"/><circle cx="539.97" cy="483.10" r="0.7" fill="#d0d0d0"/><circle cx="543.30" cy="484.20" r="0.7" fill="#d0d0d0"/><rect x="545.10" y="481.25" width="6.52" height="4.5" rx="0.7" fill="#fff" stroke="#161616" stroke-width="1.15"/>
<path d="M523.80,551.98H528.20M523.80,553.68H528.20" stroke="#333" stroke-width="0.9"/><rect x="528.50" y="550.83" width="16.30" height="4.0" rx="0.9" fill="#3a3a3a" stroke="#161616" stroke-width="1.0"/><circle cx="530.00" cy="553.53" r="0.7" fill="#d0d0d0"/><circle cx="533.33" cy="552.43" r="0.7" fill="#d0d0d0"/><circle cx="536.65" cy="553.53" r="0.7" fill="#d0d0d0"/><circle cx="539.97" cy="552.43" r="0.7" fill="#d0d0d0"/><circle cx="543.30" cy="553.53" r="0.7" fill="#d0d0d0"/><rect x="545.10" y="550.58" width="6.52" height="4.5" rx="0.7" fill="#fff" stroke="#161616" stroke-width="1.15"/>
<path d="M523.80,621.31H528.20M523.80,623.01H528.20" stroke="#333" stroke-width="0.9"/><rect x="528.50" y="620.16" width="16.30" height="4.0" rx="0.9" fill="#3a3a3a" stroke="#161616" stroke-width="1.0"/><circle cx="530.00" cy="622.86" r="0.7" fill="#d0d0d0"/><circle cx="533.33" cy="621.76" r="0.7" fill="#d0d0d0"/><circle cx="536.65" cy="622.86" r="0.7" fill="#d0d0d0"/><circle cx="539.97" cy="621.76" r="0.7" fill="#d0d0d0"/><circle cx="543.30" cy="622.86" r="0.7" fill="#d0d0d0"/><rect x="545.10" y="619.91" width="6.52" height="4.5" rx="0.7" fill="#fff" stroke="#161616" stroke-width="1.15"/>
<path d="M523.80,690.64H528.20M523.80,692.34H528.20" stroke="#333" stroke-width="0.9"/><rect x="528.50" y="689.49" width="16.30" height="4.0" rx="0.9" fill="#3a3a3a" stroke="#161616" stroke-width="1.0"/><circle cx="530.00" cy="692.19" r="0.7" fill="#d0d0d0"/><circle cx="533.33" cy="691.09" r="0.7" fill="#d0d0d0"/><circle cx="536.65" cy="692.19" r="0.7" fill="#d0d0d0"/><circle cx="539.97" cy="691.09" r="0.7" fill="#d0d0d0"/><circle cx="543.30" cy="692.19" r="0.7" fill="#d0d0d0"/><rect x="545.10" y="689.24" width="6.52" height="4.5" rx="0.7" fill="#fff" stroke="#161616" stroke-width="1.15"/>
<path d="M523.80,759.97H528.20M523.80,761.67H528.20" stroke="#333" stroke-width="0.9"/><rect x="528.50" y="758.82" width="16.30" height="4.0" rx="0.9" fill="#3a3a3a" stroke="#161616" stroke-width="1.0"/><circle cx="530.00" cy="761.52" r="0.7" fill="#d0d0d0"/><circle cx="533.33" cy="760.42" r="0.7" fill="#d0d0d0"/><circle cx="536.65" cy="761.52" r="0.7" fill="#d0d0d0"/><circle cx="539.97" cy="760.42" r="0.7" fill="#d0d0d0"/><circle cx="543.30" cy="761.52" r="0.7" fill="#d0d0d0"/><rect x="545.10" y="758.57" width="6.52" height="4.5" rx="0.7" fill="#fff" stroke="#161616" stroke-width="1.15"/>
<path d="M523.80,829.30H528.20M523.80,831.00H528.20" stroke="#333" stroke-width="0.9"/><rect x="528.50" y="828.15" width="16.30" height="4.0" rx="0.9" fill="#3a3a3a" stroke="#161616" stroke-width="1.0"/><circle cx="530.00" cy="830.85" r="0.7" fill="#d0d0d0"/><circle cx="533.33" cy="829.75" r="0.7" fill="#d0d0d0"/><circle cx="536.65" cy="830.85" r="0.7" fill="#d0d0d0"/><circle cx="539.97" cy="829.75" r="0.7" fill="#d0d0d0"/><circle cx="543.30" cy="830.85" r="0.7" fill="#d0d0d0"/><rect x="545.10" y="827.90" width="6.52" height="4.5" rx="0.7" fill="#fff" stroke="#161616" stroke-width="1.15"/>
<path d="M611.00,447.75H615.20M611.00,449.45H615.20" stroke="#333" stroke-width="0.9"/><rect x="594.30" y="446.60" width="16.40" height="4.0" rx="0.9" fill="#3a3a3a" stroke="#161616" stroke-width="1.0"/><circle cx="595.80" cy="449.30" r="0.7" fill="#d0d0d0"/><circle cx="599.15" cy="448.20" r="0.7" fill="#d0d0d0"/><circle cx="602.50" cy="449.30" r="0.7" fill="#d0d0d0"/><circle cx="605.85" cy="448.20" r="0.7" fill="#d0d0d0"/><circle cx="609.20" cy="449.30" r="0.7" fill="#d0d0d0"/><rect x="588.28" y="446.35" width="5.72" height="4.5" rx="0.7" fill="#fff" stroke="#161616" stroke-width="1.15"/>
<path d="M611.00,517.08H615.20M611.00,518.78H615.20" stroke="#333" stroke-width="0.9"/><rect x="594.30" y="515.93" width="16.40" height="4.0" rx="0.9" fill="#3a3a3a" stroke="#161616" stroke-width="1.0"/><circle cx="595.80" cy="518.63" r="0.7" fill="#d0d0d0"/><circle cx="599.15" cy="517.53" r="0.7" fill="#d0d0d0"/><circle cx="602.50" cy="518.63" r="0.7" fill="#d0d0d0"/><circle cx="605.85" cy="517.53" r="0.7" fill="#d0d0d0"/><circle cx="609.20" cy="518.63" r="0.7" fill="#d0d0d0"/><rect x="588.28" y="515.68" width="5.72" height="4.5" rx="0.7" fill="#fff" stroke="#161616" stroke-width="1.15"/>
<path d="M611.00,586.41H615.20M611.00,588.11H615.20" stroke="#333" stroke-width="0.9"/><rect x="594.30" y="585.26" width="16.40" height="4.0" rx="0.9" fill="#3a3a3a" stroke="#161616" stroke-width="1.0"/><circle cx="595.80" cy="587.96" r="0.7" fill="#d0d0d0"/><circle cx="599.15" cy="586.86" r="0.7" fill="#d0d0d0"/><circle cx="602.50" cy="587.96" r="0.7" fill="#d0d0d0"/><circle cx="605.85" cy="586.86" r="0.7" fill="#d0d0d0"/><circle cx="609.20" cy="587.96" r="0.7" fill="#d0d0d0"/><rect x="588.28" y="585.01" width="5.72" height="4.5" rx="0.7" fill="#fff" stroke="#161616" stroke-width="1.15"/>
<path d="M611.00,655.74H615.20M611.00,657.44H615.20" stroke="#333" stroke-width="0.9"/><rect x="594.30" y="654.59" width="16.40" height="4.0" rx="0.9" fill="#3a3a3a" stroke="#161616" stroke-width="1.0"/><circle cx="595.80" cy="657.29" r="0.7" fill="#d0d0d0"/><circle cx="599.15" cy="656.19" r="0.7" fill="#d0d0d0"/><circle cx="602.50" cy="657.29" r="0.7" fill="#d0d0d0"/><circle cx="605.85" cy="656.19" r="0.7" fill="#d0d0d0"/><circle cx="609.20" cy="657.29" r="0.7" fill="#d0d0d0"/><rect x="588.28" y="654.34" width="5.72" height="4.5" rx="0.7" fill="#fff" stroke="#161616" stroke-width="1.15"/>
<path d="M611.00,725.07H615.20M611.00,726.77H615.20" stroke="#333" stroke-width="0.9"/><rect x="594.30" y="723.92" width="16.40" height="4.0" rx="0.9" fill="#3a3a3a" stroke="#161616" stroke-width="1.0"/><circle cx="595.80" cy="726.62" r="0.7" fill="#d0d0d0"/><circle cx="599.15" cy="725.52" r="0.7" fill="#d0d0d0"/><circle cx="602.50" cy="726.62" r="0.7" fill="#d0d0d0"/><circle cx="605.85" cy="725.52" r="0.7" fill="#d0d0d0"/><circle cx="609.20" cy="726.62" r="0.7" fill="#d0d0d0"/><rect x="588.28" y="723.67" width="5.72" height="4.5" rx="0.7" fill="#fff" stroke="#161616" stroke-width="1.15"/>
<path d="M611.00,794.40H615.20M611.00,796.10H615.20" stroke="#333" stroke-width="0.9"/><rect x="594.30" y="793.25" width="16.40" height="4.0" rx="0.9" fill="#3a3a3a" stroke="#161616" stroke-width="1.0"/><circle cx="595.80" cy="795.95" r="0.7" fill="#d0d0d0"/><circle cx="599.15" cy="794.85" r="0.7" fill="#d0d0d0"/><circle cx="602.50" cy="795.95" r="0.7" fill="#d0d0d0"/><circle cx="605.85" cy="794.85" r="0.7" fill="#d0d0d0"/><circle cx="609.20" cy="795.95" r="0.7" fill="#d0d0d0"/><rect x="588.28" y="793.00" width="5.72" height="4.5" rx="0.7" fill="#fff" stroke="#161616" stroke-width="1.15"/>
<path d="M611.00,863.73H615.20M611.00,865.43H615.20" stroke="#333" stroke-width="0.9"/><rect x="594.30" y="862.58" width="16.40" height="4.0" rx="0.9" fill="#3a3a3a" stroke="#161616" stroke-width="1.0"/><circle cx="595.80" cy="865.28" r="0.7" fill="#d0d0d0"/><circle cx="599.15" cy="864.18" r="0.7" fill="#d0d0d0"/><circle cx="602.50" cy="865.28" r="0.7" fill="#d0d0d0"/><circle cx="605.85" cy="864.18" r="0.7" fill="#d0d0d0"/><circle cx="609.20" cy="865.28" r="0.7" fill="#d0d0d0"/><rect x="588.28" y="862.33" width="5.72" height="4.5" rx="0.7" fill="#fff" stroke="#161616" stroke-width="1.15"/>
<path d="M620.30,482.65H624.70M620.30,484.35H624.70" stroke="#333" stroke-width="0.9"/><rect x="625.00" y="481.50" width="16.30" height="4.0" rx="0.9" fill="#3a3a3a" stroke="#161616" stroke-width="1.0"/><circle cx="626.50" cy="484.20" r="0.7" fill="#d0d0d0"/><circle cx="629.83" cy="483.10" r="0.7" fill="#d0d0d0"/><circle cx="633.15" cy="484.20" r="0.7" fill="#d0d0d0"/><circle cx="636.47" cy="483.10" r="0.7" fill="#d0d0d0"/><circle cx="639.80" cy="484.20" r="0.7" fill="#d0d0d0"/><rect x="641.60" y="481.25" width="6.52" height="4.5" rx="0.7" fill="#fff" stroke="#161616" stroke-width="1.15"/>
<path d="M620.30,551.98H624.70M620.30,553.68H624.70" stroke="#333" stroke-width="0.9"/><rect x="625.00" y="550.83" width="16.30" height="4.0" rx="0.9" fill="#3a3a3a" stroke="#161616" stroke-width="1.0"/><circle cx="626.50" cy="553.53" r="0.7" fill="#d0d0d0"/><circle cx="629.83" cy="552.43" r="0.7" fill="#d0d0d0"/><circle cx="633.15" cy="553.53" r="0.7" fill="#d0d0d0"/><circle cx="636.47" cy="552.43" r="0.7" fill="#d0d0d0"/><circle cx="639.80" cy="553.53" r="0.7" fill="#d0d0d0"/><rect x="641.60" y="550.58" width="6.52" height="4.5" rx="0.7" fill="#fff" stroke="#161616" stroke-width="1.15"/>
<path d="M620.30,621.31H624.70M620.30,623.01H624.70" stroke="#333" stroke-width="0.9"/><rect x="625.00" y="620.16" width="16.30" height="4.0" rx="0.9" fill="#3a3a3a" stroke="#161616" stroke-width="1.0"/><circle cx="626.50" cy="622.86" r="0.7" fill="#d0d0d0"/><circle cx="629.83" cy="621.76" r="0.7" fill="#d0d0d0"/><circle cx="633.15" cy="622.86" r="0.7" fill="#d0d0d0"/><circle cx="636.47" cy="621.76" r="0.7" fill="#d0d0d0"/><circle cx="639.80" cy="622.86" r="0.7" fill="#d0d0d0"/><rect x="641.60" y="619.91" width="6.52" height="4.5" rx="0.7" fill="#fff" stroke="#161616" stroke-width="1.15"/>
<path d="M620.30,690.64H624.70M620.30,692.34H624.70" stroke="#333" stroke-width="0.9"/><rect x="625.00" y="689.49" width="16.30" height="4.0" rx="0.9" fill="#3a3a3a" stroke="#161616" stroke-width="1.0"/><circle cx="626.50" cy="692.19" r="0.7" fill="#d0d0d0"/><circle cx="629.83" cy="691.09" r="0.7" fill="#d0d0d0"/><circle cx="633.15" cy="692.19" r="0.7" fill="#d0d0d0"/><circle cx="636.47" cy="691.09" r="0.7" fill="#d0d0d0"/><circle cx="639.80" cy="692.19" r="0.7" fill="#d0d0d0"/><rect x="641.60" y="689.24" width="6.52" height="4.5" rx="0.7" fill="#fff" stroke="#161616" stroke-width="1.15"/>
<path d="M620.30,759.97H624.70M620.30,761.67H624.70" stroke="#333" stroke-width="0.9"/><rect x="625.00" y="758.82" width="16.30" height="4.0" rx="0.9" fill="#3a3a3a" stroke="#161616" stroke-width="1.0"/><circle cx="626.50" cy="761.52" r="0.7" fill="#d0d0d0"/><circle cx="629.83" cy="760.42" r="0.7" fill="#d0d0d0"/><circle cx="633.15" cy="761.52" r="0.7" fill="#d0d0d0"/><circle cx="636.47" cy="760.42" r="0.7" fill="#d0d0d0"/><circle cx="639.80" cy="761.52" r="0.7" fill="#d0d0d0"/><rect x="641.60" y="758.57" width="6.52" height="4.5" rx="0.7" fill="#fff" stroke="#161616" stroke-width="1.15"/>
<path d="M620.30,829.30H624.70M620.30,831.00H624.70" stroke="#333" stroke-width="0.9"/><rect x="625.00" y="828.15" width="16.30" height="4.0" rx="0.9" fill="#3a3a3a" stroke="#161616" stroke-width="1.0"/><circle cx="626.50" cy="830.85" r="0.7" fill="#d0d0d0"/><circle cx="629.83" cy="829.75" r="0.7" fill="#d0d0d0"/><circle cx="633.15" cy="830.85" r="0.7" fill="#d0d0d0"/><circle cx="636.47" cy="829.75" r="0.7" fill="#d0d0d0"/><circle cx="639.80" cy="830.85" r="0.7" fill="#d0d0d0"/><rect x="641.60" y="827.90" width="6.52" height="4.5" rx="0.7" fill="#fff" stroke="#161616" stroke-width="1.15"/>
<path d="M708.20,447.75H712.40M708.20,449.45H712.40" stroke="#333" stroke-width="0.9"/><rect x="691.50" y="446.60" width="16.40" height="4.0" rx="0.9" fill="#3a3a3a" stroke="#161616" stroke-width="1.0"/><circle cx="693.00" cy="449.30" r="0.7" fill="#d0d0d0"/><circle cx="696.35" cy="448.20" r="0.7" fill="#d0d0d0"/><circle cx="699.70" cy="449.30" r="0.7" fill="#d0d0d0"/><circle cx="703.05" cy="448.20" r="0.7" fill="#d0d0d0"/><circle cx="706.40" cy="449.30" r="0.7" fill="#d0d0d0"/><rect x="685.48" y="446.35" width="5.72" height="4.5" rx="0.7" fill="#fff" stroke="#161616" stroke-width="1.15"/>
<path d="M708.20,517.08H712.40M708.20,518.78H712.40" stroke="#333" stroke-width="0.9"/><rect x="691.50" y="515.93" width="16.40" height="4.0" rx="0.9" fill="#3a3a3a" stroke="#161616" stroke-width="1.0"/><circle cx="693.00" cy="518.63" r="0.7" fill="#d0d0d0"/><circle cx="696.35" cy="517.53" r="0.7" fill="#d0d0d0"/><circle cx="699.70" cy="518.63" r="0.7" fill="#d0d0d0"/><circle cx="703.05" cy="517.53" r="0.7" fill="#d0d0d0"/><circle cx="706.40" cy="518.63" r="0.7" fill="#d0d0d0"/><rect x="685.48" y="515.68" width="5.72" height="4.5" rx="0.7" fill="#fff" stroke="#161616" stroke-width="1.15"/>
<path d="M708.20,586.41H712.40M708.20,588.11H712.40" stroke="#333" stroke-width="0.9"/><rect x="691.50" y="585.26" width="16.40" height="4.0" rx="0.9" fill="#3a3a3a" stroke="#161616" stroke-width="1.0"/><circle cx="693.00" cy="587.96" r="0.7" fill="#d0d0d0"/><circle cx="696.35" cy="586.86" r="0.7" fill="#d0d0d0"/><circle cx="699.70" cy="587.96" r="0.7" fill="#d0d0d0"/><circle cx="703.05" cy="586.86" r="0.7" fill="#d0d0d0"/><circle cx="706.40" cy="587.96" r="0.7" fill="#d0d0d0"/><rect x="685.48" y="585.01" width="5.72" height="4.5" rx="0.7" fill="#fff" stroke="#161616" stroke-width="1.15"/>
<path d="M708.20,655.74H712.40M708.20,657.44H712.40" stroke="#333" stroke-width="0.9"/><rect x="691.50" y="654.59" width="16.40" height="4.0" rx="0.9" fill="#3a3a3a" stroke="#161616" stroke-width="1.0"/><circle cx="693.00" cy="657.29" r="0.7" fill="#d0d0d0"/><circle cx="696.35" cy="656.19" r="0.7" fill="#d0d0d0"/><circle cx="699.70" cy="657.29" r="0.7" fill="#d0d0d0"/><circle cx="703.05" cy="656.19" r="0.7" fill="#d0d0d0"/><circle cx="706.40" cy="657.29" r="0.7" fill="#d0d0d0"/><rect x="685.48" y="654.34" width="5.72" height="4.5" rx="0.7" fill="#fff" stroke="#161616" stroke-width="1.15"/>
<path d="M708.20,725.07H712.40M708.20,726.77H712.40" stroke="#333" stroke-width="0.9"/><rect x="691.50" y="723.92" width="16.40" height="4.0" rx="0.9" fill="#3a3a3a" stroke="#161616" stroke-width="1.0"/><circle cx="693.00" cy="726.62" r="0.7" fill="#d0d0d0"/><circle cx="696.35" cy="725.52" r="0.7" fill="#d0d0d0"/><circle cx="699.70" cy="726.62" r="0.7" fill="#d0d0d0"/><circle cx="703.05" cy="725.52" r="0.7" fill="#d0d0d0"/><circle cx="706.40" cy="726.62" r="0.7" fill="#d0d0d0"/><rect x="685.48" y="723.67" width="5.72" height="4.5" rx="0.7" fill="#fff" stroke="#161616" stroke-width="1.15"/>
<path d="M708.20,794.40H712.40M708.20,796.10H712.40" stroke="#333" stroke-width="0.9"/><rect x="691.50" y="793.25" width="16.40" height="4.0" rx="0.9" fill="#3a3a3a" stroke="#161616" stroke-width="1.0"/><circle cx="693.00" cy="795.95" r="0.7" fill="#d0d0d0"/><circle cx="696.35" cy="794.85" r="0.7" fill="#d0d0d0"/><circle cx="699.70" cy="795.95" r="0.7" fill="#d0d0d0"/><circle cx="703.05" cy="794.85" r="0.7" fill="#d0d0d0"/><circle cx="706.40" cy="795.95" r="0.7" fill="#d0d0d0"/><rect x="685.48" y="793.00" width="5.72" height="4.5" rx="0.7" fill="#fff" stroke="#161616" stroke-width="1.15"/>
<path d="M708.20,863.73H712.40M708.20,865.43H712.40" stroke="#333" stroke-width="0.9"/><rect x="691.50" y="862.58" width="16.40" height="4.0" rx="0.9" fill="#3a3a3a" stroke="#161616" stroke-width="1.0"/><circle cx="693.00" cy="865.28" r="0.7" fill="#d0d0d0"/><circle cx="696.35" cy="864.18" r="0.7" fill="#d0d0d0"/><circle cx="699.70" cy="865.28" r="0.7" fill="#d0d0d0"/><circle cx="703.05" cy="864.18" r="0.7" fill="#d0d0d0"/><circle cx="706.40" cy="865.28" r="0.7" fill="#d0d0d0"/><rect x="685.48" y="862.33" width="5.72" height="4.5" rx="0.7" fill="#fff" stroke="#161616" stroke-width="1.15"/>
<path d="M717.50,482.65H721.90M717.50,484.35H721.90" stroke="#333" stroke-width="0.9"/><rect x="722.20" y="481.50" width="16.30" height="4.0" rx="0.9" fill="#3a3a3a" stroke="#161616" stroke-width="1.0"/><circle cx="723.70" cy="484.20" r="0.7" fill="#d0d0d0"/><circle cx="727.03" cy="483.10" r="0.7" fill="#d0d0d0"/><circle cx="730.35" cy="484.20" r="0.7" fill="#d0d0d0"/><circle cx="733.67" cy="483.10" r="0.7" fill="#d0d0d0"/><circle cx="737.00" cy="484.20" r="0.7" fill="#d0d0d0"/><rect x="738.80" y="481.25" width="6.52" height="4.5" rx="0.7" fill="#fff" stroke="#161616" stroke-width="1.15"/>
<path d="M717.50,551.98H721.90M717.50,553.68H721.90" stroke="#333" stroke-width="0.9"/><rect x="722.20" y="550.83" width="16.30" height="4.0" rx="0.9" fill="#3a3a3a" stroke="#161616" stroke-width="1.0"/><circle cx="723.70" cy="553.53" r="0.7" fill="#d0d0d0"/><circle cx="727.03" cy="552.43" r="0.7" fill="#d0d0d0"/><circle cx="730.35" cy="553.53" r="0.7" fill="#d0d0d0"/><circle cx="733.67" cy="552.43" r="0.7" fill="#d0d0d0"/><circle cx="737.00" cy="553.53" r="0.7" fill="#d0d0d0"/><rect x="738.80" y="550.58" width="6.52" height="4.5" rx="0.7" fill="#fff" stroke="#161616" stroke-width="1.15"/>
<path d="M717.50,621.31H721.90M717.50,623.01H721.90" stroke="#333" stroke-width="0.9"/><rect x="722.20" y="620.16" width="16.30" height="4.0" rx="0.9" fill="#3a3a3a" stroke="#161616" stroke-width="1.0"/><circle cx="723.70" cy="622.86" r="0.7" fill="#d0d0d0"/><circle cx="727.03" cy="621.76" r="0.7" fill="#d0d0d0"/><circle cx="730.35" cy="622.86" r="0.7" fill="#d0d0d0"/><circle cx="733.67" cy="621.76" r="0.7" fill="#d0d0d0"/><circle cx="737.00" cy="622.86" r="0.7" fill="#d0d0d0"/><rect x="738.80" y="619.91" width="6.52" height="4.5" rx="0.7" fill="#fff" stroke="#161616" stroke-width="1.15"/>
<path d="M717.50,690.64H721.90M717.50,692.34H721.90" stroke="#333" stroke-width="0.9"/><rect x="722.20" y="689.49" width="16.30" height="4.0" rx="0.9" fill="#3a3a3a" stroke="#161616" stroke-width="1.0"/><circle cx="723.70" cy="692.19" r="0.7" fill="#d0d0d0"/><circle cx="727.03" cy="691.09" r="0.7" fill="#d0d0d0"/><circle cx="730.35" cy="692.19" r="0.7" fill="#d0d0d0"/><circle cx="733.67" cy="691.09" r="0.7" fill="#d0d0d0"/><circle cx="737.00" cy="692.19" r="0.7" fill="#d0d0d0"/><rect x="738.80" y="689.24" width="6.52" height="4.5" rx="0.7" fill="#fff" stroke="#161616" stroke-width="1.15"/>
<path d="M717.50,759.97H721.90M717.50,761.67H721.90" stroke="#333" stroke-width="0.9"/><rect x="722.20" y="758.82" width="16.30" height="4.0" rx="0.9" fill="#3a3a3a" stroke="#161616" stroke-width="1.0"/><circle cx="723.70" cy="761.52" r="0.7" fill="#d0d0d0"/><circle cx="727.03" cy="760.42" r="0.7" fill="#d0d0d0"/><circle cx="730.35" cy="761.52" r="0.7" fill="#d0d0d0"/><circle cx="733.67" cy="760.42" r="0.7" fill="#d0d0d0"/><circle cx="737.00" cy="761.52" r="0.7" fill="#d0d0d0"/><rect x="738.80" y="758.57" width="6.52" height="4.5" rx="0.7" fill="#fff" stroke="#161616" stroke-width="1.15"/>
<path d="M717.50,829.30H721.90M717.50,831.00H721.90" stroke="#333" stroke-width="0.9"/><rect x="722.20" y="828.15" width="16.30" height="4.0" rx="0.9" fill="#3a3a3a" stroke="#161616" stroke-width="1.0"/><circle cx="723.70" cy="830.85" r="0.7" fill="#d0d0d0"/><circle cx="727.03" cy="829.75" r="0.7" fill="#d0d0d0"/><circle cx="730.35" cy="830.85" r="0.7" fill="#d0d0d0"/><circle cx="733.67" cy="829.75" r="0.7" fill="#d0d0d0"/><circle cx="737.00" cy="830.85" r="0.7" fill="#d0d0d0"/><rect x="738.80" y="827.90" width="6.52" height="4.5" rx="0.7" fill="#fff" stroke="#161616" stroke-width="1.15"/>
<path d="M220.60,678.96 L225.60,678.05 L230.60,677.12 L235.61,676.18 L240.61,675.24 L245.61,674.30 L250.61,673.36 L255.61,672.43 L260.62,671.52 L265.62,670.63 L270.62,669.76 L275.62,668.92 L280.62,668.11 L285.63,667.33 L290.63,666.60 L295.63,665.90 L300.63,665.24 L305.63,664.62 L310.64,664.05 L315.64,663.52 L320.64,663.05 L325.64,662.62 L330.64,662.24 L335.65,661.91 L340.65,661.62 L345.65,661.39 L350.65,661.21 L355.65,661.07 L360.66,660.98 L365.66,660.94 L370.66,660.95 L375.66,661.00 L380.66,661.09 L385.67,661.23 L390.67,661.41 L395.67,661.63 L400.67,661.88 L405.67,662.17 L410.68,662.49 L415.68,662.85 L420.68,663.23 L425.68,663.64 L430.68,664.07 L435.69,664.53 L440.69,665.00 L445.69,665.49 L450.69,666.00 L455.69,666.51 L460.70,667.04 L465.70,667.57 L470.70,668.10 L475.70,668.64 L480.70,669.17 L485.71,669.70 L490.71,670.22 L495.71,670.73 L500.71,671.22 L505.71,671.71 L510.72,672.17 L515.72,672.62 L520.72,673.04 L525.72,673.44 L530.72,673.81 L535.73,674.15 L540.73,674.47 L545.73,674.75 L550.73,674.99 L555.73,675.20 L560.74,675.37 L565.74,675.51 L570.74,675.60 L575.74,675.65 L580.74,675.67 L585.75,675.64 L590.75,675.56 L595.75,675.44 L600.75,675.29 L605.75,675.08 L610.76,674.84 L615.76,674.55 L620.76,674.22 L625.76,673.85 L630.76,673.45 L635.77,673.00 L640.77,672.52 L645.77,672.01 L650.77,671.47 L655.77,670.90 L660.78,670.30 L665.78,669.68 L670.78,669.05 L675.78,668.40 L680.78,667.74 L685.79,667.07 L690.79,666.41 L695.79,665.75 L700.79,665.10 L705.79,664.47 L710.80,663.86 L715.80,663.28 L720.80,662.74 L720.80,668.94 L715.80,669.48 L710.80,670.06 L705.79,670.67 L700.79,671.30 L695.79,671.95 L690.79,672.61 L685.79,673.27 L680.78,673.94 L675.78,674.60 L670.78,675.25 L665.78,675.88 L660.78,676.50 L655.77,677.10 L650.77,677.67 L645.77,678.21 L640.77,678.72 L635.77,679.20 L630.76,679.65 L625.76,680.05 L620.76,680.42 L615.76,680.75 L610.76,681.04 L605.75,681.28 L600.75,681.49 L595.75,681.64 L590.75,681.76 L585.75,681.84 L580.74,681.87 L575.74,681.85 L570.74,681.80 L565.74,681.71 L560.74,681.57 L555.73,681.40 L550.73,681.19 L545.73,680.95 L540.73,680.67 L535.73,680.35 L530.72,680.01 L525.72,679.64 L520.72,679.24 L515.72,678.82 L510.72,678.37 L505.71,677.91 L500.71,677.42 L495.71,676.93 L490.71,676.42 L485.71,675.90 L480.70,675.37 L475.70,674.84 L470.70,674.30 L465.70,673.77 L460.70,673.24 L455.69,672.71 L450.69,672.20 L445.69,671.69 L440.69,671.20 L435.69,670.73 L430.68,670.27 L425.68,669.84 L420.68,669.43 L415.68,669.05 L410.68,668.69 L405.67,668.37 L400.67,668.08 L395.67,667.83 L390.67,667.61 L385.67,667.43 L380.66,667.29 L375.66,667.20 L370.66,667.15 L365.66,667.14 L360.66,667.18 L355.65,667.27 L350.65,667.41 L345.65,667.59 L340.65,667.82 L335.65,668.11 L330.64,668.44 L325.64,668.82 L320.64,669.25 L315.64,669.72 L310.64,670.25 L305.63,670.82 L300.63,671.44 L295.63,672.10 L290.63,672.80 L285.63,673.53 L280.62,674.31 L275.62,675.12 L270.62,675.96 L265.62,676.83 L260.62,677.72 L255.61,678.63 L250.61,679.56 L245.61,680.50 L240.61,681.44 L235.61,682.38 L230.60,683.32 L225.60,684.25 L220.60,685.16Z" fill="#fff"/>
<path d="M220.60,678.96 L225.60,678.05 L230.60,677.12 L235.61,676.18 L240.61,675.24 L245.61,674.30 L250.61,673.36 L255.61,672.43 L260.62,671.52 L265.62,670.63 L270.62,669.76 L275.62,668.92 L280.62,668.11 L285.63,667.33 L290.63,666.60 L295.63,665.90 L300.63,665.24 L305.63,664.62 L310.64,664.05 L315.64,663.52 L320.64,663.05 L325.64,662.62 L330.64,662.24 L335.65,661.91 L340.65,661.62 L345.65,661.39 L350.65,661.21 L355.65,661.07 L360.66,660.98 L365.66,660.94 L370.66,660.95 L375.66,661.00 L380.66,661.09 L385.67,661.23 L390.67,661.41 L395.67,661.63 L400.67,661.88 L405.67,662.17 L410.68,662.49 L415.68,662.85 L420.68,663.23 L425.68,663.64 L430.68,664.07 L435.69,664.53 L440.69,665.00 L445.69,665.49 L450.69,666.00 L455.69,666.51 L460.70,667.04 L465.70,667.57 L470.70,668.10 L475.70,668.64 L480.70,669.17 L485.71,669.70 L490.71,670.22 L495.71,670.73 L500.71,671.22 L505.71,671.71 L510.72,672.17 L515.72,672.62 L520.72,673.04 L525.72,673.44 L530.72,673.81 L535.73,674.15 L540.73,674.47 L545.73,674.75 L550.73,674.99 L555.73,675.20 L560.74,675.37 L565.74,675.51 L570.74,675.60 L575.74,675.65 L580.74,675.67 L585.75,675.64 L590.75,675.56 L595.75,675.44 L600.75,675.29 L605.75,675.08 L610.76,674.84 L615.76,674.55 L620.76,674.22 L625.76,673.85 L630.76,673.45 L635.77,673.00 L640.77,672.52 L645.77,672.01 L650.77,671.47 L655.77,670.90 L660.78,670.30 L665.78,669.68 L670.78,669.05 L675.78,668.40 L680.78,667.74 L685.79,667.07 L690.79,666.41 L695.79,665.75 L700.79,665.10 L705.79,664.47 L710.80,663.86 L715.80,663.28 L720.80,662.74" fill="none" stroke="#161616" stroke-width="1.7" stroke-linejoin="round"/>
<path d="M220.60,685.16 L225.60,684.25 L230.60,683.32 L235.61,682.38 L240.61,681.44 L245.61,680.50 L250.61,679.56 L255.61,678.63 L260.62,677.72 L265.62,676.83 L270.62,675.96 L275.62,675.12 L280.62,674.31 L285.63,673.53 L290.63,672.80 L295.63,672.10 L300.63,671.44 L305.63,670.82 L310.64,670.25 L315.64,669.72 L320.64,669.25 L325.64,668.82 L330.64,668.44 L335.65,668.11 L340.65,667.82 L345.65,667.59 L350.65,667.41 L355.65,667.27 L360.66,667.18 L365.66,667.14 L370.66,667.15 L375.66,667.20 L380.66,667.29 L385.67,667.43 L390.67,667.61 L395.67,667.83 L400.67,668.08 L405.67,668.37 L410.68,668.69 L415.68,669.05 L420.68,669.43 L425.68,669.84 L430.68,670.27 L435.69,670.73 L440.69,671.20 L445.69,671.69 L450.69,672.20 L455.69,672.71 L460.70,673.24 L465.70,673.77 L470.70,674.30 L475.70,674.84 L480.70,675.37 L485.71,675.90 L490.71,676.42 L495.71,676.93 L500.71,677.42 L505.71,677.91 L510.72,678.37 L515.72,678.82 L520.72,679.24 L525.72,679.64 L530.72,680.01 L535.73,680.35 L540.73,680.67 L545.73,680.95 L550.73,681.19 L555.73,681.40 L560.74,681.57 L565.74,681.71 L570.74,681.80 L575.74,681.85 L580.74,681.87 L585.75,681.84 L590.75,681.76 L595.75,681.64 L600.75,681.49 L605.75,681.28 L610.76,681.04 L615.76,680.75 L620.76,680.42 L625.76,680.05 L630.76,679.65 L635.77,679.20 L640.77,678.72 L645.77,678.21 L650.77,677.67 L655.77,677.10 L660.78,676.50 L665.78,675.88 L670.78,675.25 L675.78,674.60 L680.78,673.94 L685.79,673.27 L690.79,672.61 L695.79,671.95 L700.79,671.30 L705.79,670.67 L710.80,670.06 L715.80,669.48 L720.80,668.94" fill="none" stroke="#161616" stroke-width="1.7" stroke-linejoin="round"/>
<path d="M70.6,119H168.2" stroke="#2a2a2a" stroke-width="1.3"/>
<path d="M119.5,119V125" stroke="#161616" stroke-width="1"/>
<path d="M119.50,130.70L117.30,120.20L121.70,120.20Z" fill="#161616"/>
<path d="M163.2,155.2V176.6H365.6" fill="none" stroke="#2a2a2a" stroke-width="1.3"/>
<path d="M135,165.6H163.2" stroke="#161616" stroke-width="1.1"/>
<path d="M129.20,165.60L139.20,163.00L139.20,168.20Z" fill="#161616"/>
<path d="M23.6,384H127.4" stroke="#2a2a2a" stroke-width="1.3"/>
<path d="M127.2,384V387" stroke="#161616" stroke-width="1"/>
<path d="M127.20,395.40L124.80,385.40L129.60,385.40Z" fill="#161616"/>
<path d="M442.6,384H520.6" stroke="#2a2a2a" stroke-width="1.3"/>
<path d="M481.6,384V387" stroke="#161616" stroke-width="1"/>
<path d="M481.60,395.50L479.10,385.00L484.10,385.00Z" fill="#161616"/>
<path d="M801.6,382.5H989.5M801.8,382.5V388" fill="none" stroke="#2a2a2a" stroke-width="1.3"/>
<path d="M801.80,395.50L799.20,385.50L804.40,385.50Z" fill="#161616"/>
<path d="M851.3,406.2V429.1H985.6" fill="none" stroke="#2a2a2a" stroke-width="1.3"/>
<path d="M845,417.2H851.3" stroke="#161616" stroke-width="1.1"/>
<path d="M839.40,417.20L849.40,414.60L849.40,419.80Z" fill="#161616"/>
<text x="73.98" y="111" font-size="16" textLength="88.29" lengthAdjust="spacingAndGlyphs">Контроллер</text>
<text x="165.4" y="168" font-size="16" textLength="195.02" lengthAdjust="spacingAndGlyphs">Кнопка выбора программ</text>
<text x="22.98" y="352" font-size="15.5" textLength="83.44" lengthAdjust="spacingAndGlyphs">Разъем 1 —</text>
<text x="22.68" y="370.8" font-size="15.5" textLength="95.97" lengthAdjust="spacingAndGlyphs">вход питания</text>
<text x="447.1" y="379.6" font-size="17.5" textLength="73.35" lengthAdjust="spacingAndGlyphs">Гирлянда</text>
<text x="804.32" y="329.4" font-size="16" textLength="189.03" lengthAdjust="spacingAndGlyphs">Разъем 2 — подключение</text>
<text x="805.03" y="350.7" font-size="16" textLength="119.22" lengthAdjust="spacingAndGlyphs">дополнительных</text>
<text x="804.59" y="368.9" font-size="16" textLength="58.56" lengthAdjust="spacingAndGlyphs">гирлянд</text>
<text x="857.42" y="421" font-size="16" textLength="127.46" lengthAdjust="spacingAndGlyphs">Крышка разъема</text>
<path d="M222.30,398.50 Q223.20,397.90 223.60,397.30 V405.80" fill="none" stroke="#161616" stroke-width="1.3"/>
<path d="M516.30,398.50 Q517.00,397.90 517.40,397.30 V405.80" fill="none" stroke="#161616" stroke-width="1.3"/>
<text transform="translate(520.09,405.68) scale(1.0678,1)" font-size="12.15">0</text>
<path d="M615.80,398.50 Q616.60,397.90 617.00,397.30 V405.80" fill="none" stroke="#161616" stroke-width="1.3"/>
<path d="M620.40,398.50 Q621.20,397.90 621.60,397.30 V405.80" fill="none" stroke="#161616" stroke-width="1.3"/>
<path d="M712.30,398.50 Q713.00,397.90 713.40,397.30 V405.80" fill="none" stroke="#161616" stroke-width="1.3"/>
<text transform="translate(715.23,405.80) scale(0.9267,1)" font-size="12.32">2</text>
<text transform="translate(318.30,405.80) scale(1.1228,1)" font-size="12.32">2</text>
<text transform="translate(417.94,405.68) scale(0.9897,1)" font-size="12.15">3</text>
<text transform="translate(32.89,303.76) scale(0.9306,1)" font-size="24.36">3</text>
<text transform="translate(47.29,303.76) scale(1.0089,1)" font-size="24.36">0</text>
<text transform="translate(62.23,303.76) scale(1.0733,1)" font-size="24.36">0</text>
<path d="M520.3,236.6 Q522.6,235.6 523.9,234.3 V251.6" fill="none" stroke="#161616" stroke-width="2.0"/>
<text transform="translate(527.61,251.60) scale(0.9513,1)" font-size="24.92">2</text>
<text transform="translate(540.32,251.36) scale(1.1236,1)" font-size="24.58">0</text>
<text transform="translate(555.95,251.36) scale(1.0981,1)" font-size="24.58">0</text>
<text transform="translate(435.79,902.50) scale(0.9917,1)" font-size="24.35">2</text>
<text transform="translate(450.52,902.27) scale(1.0455,1)" font-size="24.01">0</text>
<text transform="translate(465.52,902.27) scale(1.0455,1)" font-size="24.01">0</text>
<text transform="translate(480.02,902.27) scale(1.0455,1)" font-size="24.01">0</text>
<path d="M224.6,887.3V925.1M717.1,887.2V924.8" stroke="#2a2a2a" stroke-width="1.3"/>
<path d="M236,913.5H706" stroke="#161616" stroke-width="1.2"/>
<path d="M224.80,913.50L240.30,909.60L240.30,917.40Z" fill="#161616"/>
<path d="M716.80,913.50L701.30,917.40L701.30,909.60Z" fill="#161616"/>
<path d="M786.5,441.2H824.5M786.4,865.6H824.8" stroke="#2a2a2a" stroke-width="1.3"/>
<path d="M816.9,453V854" stroke="#161616" stroke-width="1.2"/>
<path d="M816.90,441.60L820.80,457.10L813.00,457.10Z" fill="#161616"/>
<path d="M816.90,865.20L813.00,849.70L820.80,849.70Z" fill="#161616"/>
<g transform="translate(805.2,741) rotate(-90)">
<text transform="translate(0.71,-0.45) scale(0.8873,1)" font-size="24.49">2</text>
<text transform="translate(14.75,-0.69) scale(0.9725,1)" font-size="24.51">5</text>
<text transform="translate(35.73,-0.45) scale(0.5904,1)" font-size="24.20">L</text>
<text transform="translate(44.54,-0.45) scale(0.6861,1)" font-size="24.20">E</text>
<text transform="translate(57.27,-0.45) scale(0.8721,1)" font-size="24.20">D</text>
<text transform="translate(73.86,-0.63) scale(0.7446,1)" font-size="18.94">s</text>
<text transform="translate(98.61,-0.45) scale(0.9680,1)" font-size="24.49">2</text>
<text transform="translate(112.31,-0.69) scale(1.0069,1)" font-size="24.51">5</text>
<text transform="translate(126.71,-0.69) scale(1.0480,1)" font-size="24.15">0</text>
<text transform="translate(142.04,-0.69) scale(1.0134,1)" font-size="24.15">0</text>
</g>
<path d="M808.9,657.8 L786.2,644.9" stroke="#161616" stroke-width="1.9"/>
</svg></body></html>
